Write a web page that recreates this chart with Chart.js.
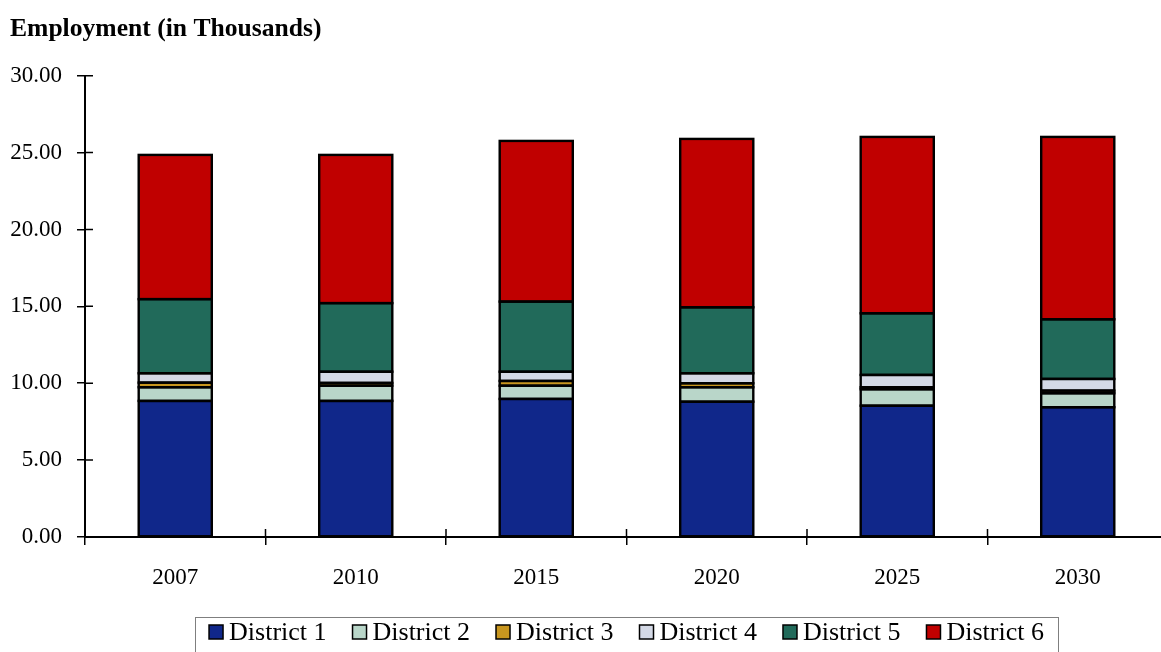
<!DOCTYPE html>
<html>
<head>
<meta charset="utf-8">
<title>Employment (in Thousands)</title>
<script src="https://cdn.jsdelivr.net/npm/chart.js@4/dist/chart.umd.min.js"></script>
<style>
  html, body { margin: 0; padding: 0; background: #fff; overflow: hidden; }
  #wrap { width: 1161px; height: 652px; overflow: hidden; }
  canvas { display: block; }
</style>
</head>
<body>
<div id="wrap"><canvas id="chart" width="1175" height="652"></canvas></div>
<script>
// Employment by district, thousands of jobs
const categories = ['2007', '2010', '2015', '2020', '2025', '2030'];
const district1 = [8.85, 8.85, 8.98, 8.80, 8.54, 8.44];
const district2 = [0.89, 0.99, 0.86, 0.94, 1.07, 0.91];
const district3 = [0.30, 0.18, 0.31, 0.26, 0.13, 0.17];
const district4 = [0.61, 0.73, 0.60, 0.65, 0.80, 0.76];
const district5 = [4.82, 4.46, 4.56, 4.29, 4.01, 3.88];
const district6 = [9.38, 9.64, 10.45, 10.95, 11.47, 11.86];
const seriesNames = ['District 1', 'District 2', 'District 3', 'District 4', 'District 5', 'District 6'];
const seriesColors = ['#10278a', '#b9d6c9', '#c8961f', '#d4d9e6', '#216a5a', '#c00000'];
const yMin = 0, yMax = 30, yStep = 5;

const FONT = "'Liberation Serif', 'Times New Roman', serif";
const seriesValues = [district1, district2, district3, district4, district5, district6];

// Black outline around each stacked segment, shared edges drawn once
const segmentOutline = {
  id: 'segmentOutline',
  afterDatasetsDraw(chart) {
    const { ctx } = chart;
    ctx.save();
    ctx.strokeStyle = '#000';
    ctx.lineWidth = 2.4;
    chart.data.datasets.forEach((d, di) => {
      chart.getDatasetMeta(di).data.forEach(bar => {
        const p = bar.getProps(['x', 'y', 'base', 'width'], true);
        const left = p.x - p.width / 2;
        const top = Math.min(p.y, p.base);
        const h = Math.abs(p.base - p.y);
        ctx.strokeRect(left, top, p.width, h);
      });
    });
    ctx.restore();
  }
};

// Inner halves of the axis tick marks (Chart.js only draws the outer half)
const crossTicks = {
  id: 'crossTicks',
  afterDraw(chart) {
    const { ctx, chartArea, scales } = chart;
    const x = scales.x, y = scales.y;
    ctx.save();
    ctx.strokeStyle = '#000';
    ctx.lineWidth = 1.5;
    ctx.beginPath();
    y.ticks.forEach((t, i) => {
      const py = y.getPixelForTick(i);
      ctx.moveTo(chartArea.left, py);
      ctx.lineTo(chartArea.left + 8, py);
    });
    const step = x.getPixelForTick(1) - x.getPixelForTick(0);
    for (let i = 0; i <= categories.length; i++) {
      const px = x.getPixelForTick(0) - step / 2 + i * step;
      ctx.moveTo(px, chartArea.bottom);
      ctx.lineTo(px, chartArea.bottom - 8);
    }
    ctx.stroke();
    ctx.restore();
  }
};

// Boxed legend row under the axis
const boxedLegend = {
  id: 'boxedLegend',
  afterDraw(chart) {
    const { ctx, chartArea } = chart;
    const ds = chart.data.datasets;
    ctx.save();
    ctx.font = '26px ' + FONT;
    ctx.textBaseline = 'middle';
    const sw = 14, gapText = 6, gapItem = 26, padX = 14;
    const widths = ds.map(d => sw + gapText + ctx.measureText(d.label).width);
    const total = widths.reduce((a, b) => a + b, 0) + gapItem * (ds.length - 1);
    const cx = (chartArea.left + chartArea.right) / 2;
    let x = cx - total / 2;
    const top = 617, cy = 632;
    ctx.strokeStyle = '#7f7f7f';
    ctx.lineWidth = 1;
    ctx.strokeRect(Math.round(x - padX) + 0.5, top + 0.5, Math.round(total + 2 * padX), 60);
    ds.forEach((d, i) => {
      ctx.fillStyle = d.backgroundColor;
      ctx.fillRect(x, cy - 7, sw, sw);
      ctx.strokeStyle = '#000';
      ctx.lineWidth = 1.5;
      ctx.strokeRect(x, cy - 7, sw, sw);
      ctx.fillStyle = '#000';
      ctx.fillText(d.label, x + sw + gapText, cy + 1);
      x += widths[i] + gapItem;
    });
    ctx.restore();
  }
};

new Chart(document.getElementById('chart'), {
  type: 'bar',
  data: {
    labels: categories,
    datasets: seriesValues.map((vals, i) => ({
      label: seriesNames[i],
      data: vals,
      backgroundColor: seriesColors[i],
      borderWidth: 0,
      inflateAmount: 0,
      barPercentage: 0.405,
      categoryPercentage: 1.0
    }))
  },
  options: {
    responsive: false,
    animation: false,
    devicePixelRatio: 1,
    layout: { padding: { left: 10, right: 7, top: 0, bottom: 0 } },
    plugins: {
      legend: { display: false },
      tooltip: { enabled: false },
      title: {
        display: true,
        text: 'Employment (in Thousands)',
        align: 'start',
        color: '#000',
        font: { family: FONT, size: 25.6, weight: 'bold' },
        padding: { top: 14, bottom: 31 }
      }
    },
    scales: {
      x: {
        stacked: true,
        afterFit(s) { s.height = 115; },
        grid: { display: true, drawOnChartArea: false, drawTicks: true, tickLength: 8, color: '#000', lineWidth: 1.5, offset: true },
        border: { display: true, color: '#000', width: 2 },
        ticks: { color: '#000', font: { family: FONT, size: 23 }, padding: 19, maxRotation: 0 }
      },
      y: {
        stacked: true,
        min: yMin,
        max: yMax,
        afterFit(s) { s.width = 75; },
        grid: { display: true, drawOnChartArea: false, drawTicks: true, tickLength: 8, color: '#000', lineWidth: 1.5 },
        border: { display: true, color: '#000', width: 2 },
        ticks: {
          stepSize: yStep,
          color: '#000',
          font: { family: FONT, size: 23 },
          padding: 15,
          callback: v => Number(v).toFixed(2)
        }
      }
    }
  },
  plugins: [segmentOutline, crossTicks, boxedLegend]
});
</script>
</body>
</html>
